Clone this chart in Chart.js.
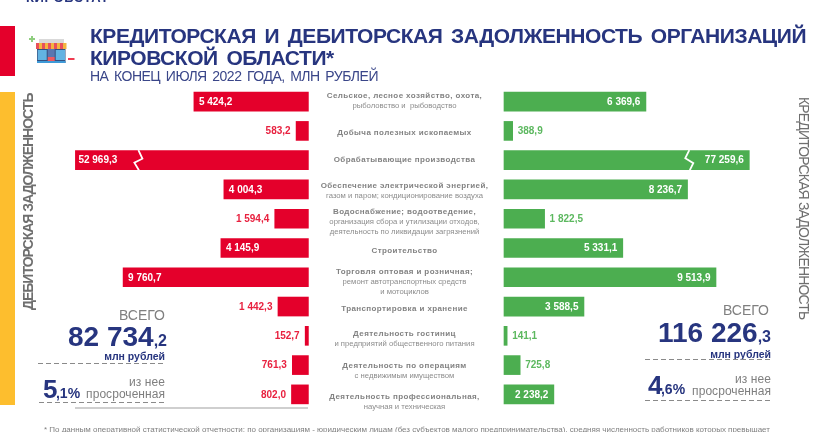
<!DOCTYPE html>
<html lang="ru">
<head>
<meta charset="utf-8">
<script src="https://cdn.jsdelivr.net/npm/chart.js@4/dist/chart.umd.min.js"></script>
<style>
html,body{margin:0;padding:0;background:#fff;overflow:hidden}
#page{position:relative;width:832px;height:432px;overflow:hidden;font-family:"Liberation Sans",Arial,sans-serif;background:#fff}
#page>canvas{position:absolute;left:0;top:0}
.t{position:absolute;white-space:nowrap;line-height:1}
.r{text-align:right}
.navy{color:#27357f}
.gray{color:#7f7f7f}
.b{font-weight:bold}
.block{position:absolute;left:0;width:15px}
.dash{position:absolute;height:1px;background:repeating-linear-gradient(90deg,#8a8a8a 0 5px,transparent 5px 8px)}
</style>
</head>
<body>
<div id="page">
  <canvas id="chart" width="832" height="432"></canvas>
  <div class="t navy b" style="left:26px;top:-9px;font-size:13px;letter-spacing:.6px">КИРОВСТАТ</div>
  <div class="block" style="top:26px;height:50px;background:#e4002b"></div>
  <div class="block" style="top:92px;height:313px;background:#fdbe2e"></div>
  <svg style="position:absolute;left:27px;top:34px" width="50" height="32" viewBox="0 0 50 32">
    <rect x="2" y="4" width="6" height="2" fill="#8fce7f"/><rect x="4" y="2" width="2" height="6" fill="#8fce7f"/>
    <rect x="12" y="5" width="25" height="4" fill="#d9d9d9"/>
    <rect x="10" y="15" width="28.5" height="14" fill="#35507f"/>
    <rect x="9" y="9" width="30.5" height="6" fill="#f4b53f"/>
    <path d="M9 9h3v6h-3zM15 9h3v6h-3zM21 9h3v6h-3zM27 9h3v6h-3zM33 9h3v6h-3z" fill="#e8505b"/>
    <rect x="10.7" y="16" width="9" height="10" fill="#62b3e2"/><rect x="28.7" y="16" width="9.3" height="10" fill="#62b3e2"/>
    <rect x="20.7" y="15" width="7" height="8" fill="#5a76b0"/><rect x="20.7" y="23" width="7" height="4" fill="#ef5a60"/>
    <rect x="10" y="27" width="28.5" height="2" fill="#3e9ad8"/>
    <rect x="41" y="24" width="6.5" height="2" fill="#ef3b50"/>
  </svg>
  <div class="t navy b" id="t1" style="left:90px;top:25px;font-size:21px;letter-spacing:-.45px;word-spacing:3.3px">КРЕДИТОРСКАЯ И ДЕБИТОРСКАЯ ЗАДОЛЖЕННОСТЬ ОРГАНИЗАЦИЙ</div>
  <div class="t navy b" id="t2" style="left:90px;top:47px;font-size:21px;letter-spacing:-.45px;word-spacing:3.3px">КИРОВСКОЙ ОБЛАСТИ*</div>
  <div class="t navy" id="t3" style="left:90px;top:69px;font-size:14px;letter-spacing:-.5px;word-spacing:2.2px;color:#3a4689">НА КОНЕЦ ИЮЛЯ 2022 ГОДА, МЛН РУБЛЕЙ</div>

  <div class="t b" id="vl" style="left:28px;top:310px;font-size:14px;letter-spacing:-1px;color:#6f6f6f;transform-origin:0 0;transform:rotate(-90deg) translateY(-7px)">ДЕБИТОРСКАЯ ЗАДОЛЖЕННОСТЬ</div>
  <div class="t" id="vr" style="left:804px;top:97px;font-size:14px;letter-spacing:-.85px;color:#6f6f6f;transform-origin:0 0;transform:rotate(90deg) translateY(-7px)">КРЕДИТОРСКАЯ ЗАДОЛЖЕННОСТЬ</div>

  <div class="t r gray" style="right:667px;top:308px;font-size:14px">ВСЕГО</div>
  <div class="t r navy b" style="right:665px;top:323px;font-size:28px">82 734<span style="font-size:16px">,2</span></div>
  <div class="t r navy b" style="right:667px;top:351px;font-size:10.5px">млн рублей</div>
  <div class="dash" style="left:38px;width:127px;top:363px"></div>
  <div class="t r gray" style="right:667px;top:376px;font-size:12px;letter-spacing:.1px">из нее</div>
  <div class="t r gray" style="right:667px;top:388px;font-size:12px;letter-spacing:.05px">просроченная</div>
  <div class="t navy b" style="left:43px;top:376px;font-size:26px;letter-spacing:-1.5px">5<span style="font-size:14px;letter-spacing:0">,1%</span></div>
  <div class="dash" style="left:39px;width:126px;top:402px"></div>
  <div style="position:absolute;left:75px;width:233px;top:407px;height:2px;background:#cfcfcf"></div>

  <div class="t r gray" style="right:63px;top:303px;font-size:14px">ВСЕГО</div>
  <div class="t r navy b" style="right:61px;top:319px;font-size:28px">116 226<span style="font-size:16px">,3</span></div>
  <div class="t r navy b" style="right:61px;top:349px;font-size:10.5px">млн рублей</div>
  <div class="dash" style="left:645px;width:126px;top:359px"></div>
  <div class="t r gray" style="right:61px;top:373px;font-size:12px;letter-spacing:.1px">из нее</div>
  <div class="t r gray" style="right:61px;top:385px;font-size:12px;letter-spacing:.05px">просроченная</div>
  <div class="t navy b" style="left:648px;top:372px;font-size:26px;letter-spacing:-1.5px">4<span style="font-size:14px;letter-spacing:0">,6%</span></div>
  <div class="dash" style="left:645px;width:126px;top:400px"></div>

  <div class="t" style="left:44px;top:426px;font-size:8px;color:#7f7f7f;letter-spacing:-.015px">* По данным оперативной статистической отчетности: по организациям - юридическим лицам (без субъектов малого предпринимательства), средняя численность работников которых превышает</div>
</div>
<script>
const categories = [
  "Сельское, лесное хозяйство, охота,",
  "Добыча полезных ископаемых",
  "Обрабатывающие производства",
  "Обеспечение электрической энергией,",
  "Водоснабжение; водоотведение,",
  "Строительство",
  "Торговля оптовая и розничная;",
  "Транспортировка и хранение",
  "Деятельность гостиниц",
  "Деятельность по операциям",
  "Деятельность профессиональная,"
];
const categoryDetails = [
  ["рыболовство и  рыбоводство"],
  [],
  [],
  ["газом и паром; кондиционирование воздуха"],
  ["организация сбора и утилизации отходов,", "деятельность по ликвидации загрязнений"],
  [],
  ["ремонт автотранспортных средств", "и мотоциклов"],
  [],
  ["и предприятий общественного питания"],
  ["с недвижимым имуществом"],
  ["научная и техническая"]
];
const receivables = [5424.2, 583.2, 52969.3, 4004.3, 1594.4, 4145.9, 9760.7, 1442.3, 152.7, 761.3, 802.0];
const payables = [6369.6, 388.9, 77259.6, 8236.7, 1822.5, 5331.1, 9513.9, 3588.5, 141.1, 725.8, 2238.2];

const RED = "#e4002b", GREEN = "#4cae50", RED_TEXT = "#e8213f", GREEN_TEXT = "#5cb85f";
const labelOffsets = [-5.8, 1.7, 0, -3.8, -7, 2.7, -5.5, 2.5, -2.5, 0.7, 2];

/* A linear axis with a compressed (broken) upper range, as on the original infographic. */
class BrokenScale extends Chart.LinearScale {
  static id = "broken";
  static defaults = Chart.LinearScale.defaults;
  getPixelForValue(v) {
    const k = this.options.knots;
    let d = k[k.length - 1][1];
    for (let i = 1; i < k.length; i++) {
      if (v <= k[i][0]) {
        d = k[i-1][1] + (v - k[i-1][0]) / (k[i][0] - k[i-1][0]) * (k[i][1] - k[i-1][1]);
        break;
      }
    }
    return this.options.origin + this.options.dir * d;
  }
}
Chart.register(BrokenScale);

const fmt = v => {
  const [a, b] = v.toFixed(1).split(".");
  return a.replace(/\B(?=(\d{3})+$)/g, "\u00a0") + "," + b;
};

const overlay = {
  id: "overlay",
  afterDatasetsDraw(chart) {
    const c = chart.ctx, y = chart.scales.y;
    c.save();
    /* value labels */
    c.textBaseline = "middle";
    c.font = "bold 10px 'Liberation Sans'";
    chart.getDatasetMeta(0).data.forEach((bar, i) => {
      const inside = receivables[i] > 3000;
      c.fillStyle = inside ? "#fff" : RED_TEXT;
      c.textAlign = inside ? "left" : "right";
      c.fillText(fmt(receivables[i]), inside ? bar.x + (i === 2 ? 3 : 5) : bar.x - 5.5, bar.y + 0.5);
    });
    chart.getDatasetMeta(1).data.forEach((bar, i) => {
      const inside = payables[i] > 2000;
      c.fillStyle = inside ? "#fff" : GREEN_TEXT;
      c.textAlign = inside ? "right" : "left";
      c.fillText(fmt(payables[i]), inside ? bar.x - 5.5 : bar.x + 5, bar.y + 0.5);
    });
    /* scale-break marks on the longest bars */
    c.strokeStyle = "#fff";
    c.lineWidth = 1.8;
    const lb = chart.getDatasetMeta(0).data[2], rb = chart.getDatasetMeta(1).data[2];
    const zig = (x0, y0, pts) => {
      c.beginPath();
      pts.forEach((p, i) => i ? c.lineTo(x0 + p[0], y0 + p[1]) : c.moveTo(x0 + p[0], y0 + p[1]));
      c.stroke();
    };
    zig(lb.x + 63, lb.y, [[0,-10],[4,-1.5],[-4,2.5],[0.5,10]]);
    zig(rb.x - 60, rb.y, [[0,-10],[-4,-2],[4,3],[0.5,10]]);
    /* category labels */
    c.textAlign = "center";
    categories.forEach((name, i) => {
      const cy = y.getPixelForValue(i) + labelOffsets[i];
      c.font = "bold 8px 'Liberation Sans'";
      c.fillStyle = "#828282";
      c.letterSpacing = "0.4px";
      c.fillText(name, 404.5, cy);
      c.font = "7.7px 'Liberation Sans'";
      c.fillStyle = "#8c8c8c";
      c.letterSpacing = "0px";
      categoryDetails[i].forEach((line, j) => c.fillText(line, 404.5, cy + 10.2 * (j + 1)));
    });
    c.restore();
  }
};

new Chart(document.getElementById("chart"), {
  type: "bar",
  data: {
    labels: categories,
    datasets: [
      { label: "Дебиторская задолженность", data: receivables, backgroundColor: RED, xAxisID: "xLeft", yAxisID: "y", barThickness: 19, grouped: false },
      { label: "Кредиторская задолженность", data: payables, backgroundColor: GREEN, xAxisID: "xRight", yAxisID: "y", barThickness: 19, grouped: false }
    ]
  },
  options: {
    indexAxis: "y",
    responsive: false,
    animation: false,
    events: [],
    layout: { padding: { top: 87, bottom: 23, left: 0, right: 0 } },
    plugins: { legend: { display: false }, tooltip: { enabled: false } },
    scales: {
      y: { type: "category", display: false, grid: { display: false } },
      xLeft: { type: "broken", axis: "x", display: false, min: 0, max: 60000, origin: 308.4, dir: -1,
               knots: [[0,0],[5424.2,114.5],[9760.7,185.3],[52969.3,233]] },
      xRight: { type: "broken", axis: "x", display: false, min: 0, max: 80000, origin: 504, dir: 1,
               knots: [[0,0],[9513.9,212],[77259.6,245.3]] }
    }
  },
  plugins: [overlay]
});
</script>
</body>
</html>
